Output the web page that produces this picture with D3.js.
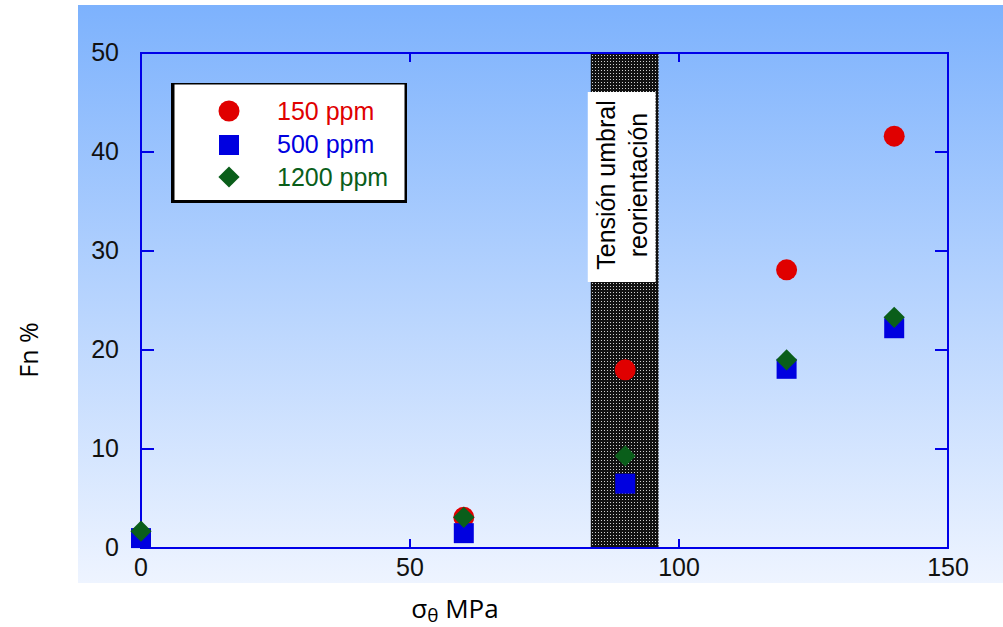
<!DOCTYPE html>
<html>
<head>
<meta charset="utf-8">
<script src="https://cdn.jsdelivr.net/npm/d3@7"></script>
<style>
  body { margin: 0; background: #fff; }
  svg { display: block; }
</style>
</head>
<body>
<svg width="1003" height="627"></svg>
<script>
// data
const stress = [0, 60, 90, 120, 140];
const ppm150 = [null, 3.1, 18.0, 28.1, 41.6];
const ppm500 = [1.0, 1.5, 6.5, 18.1, 22.2];
const ppm1200 = [1.7, 3.1, 9.3, 19.0, 23.3];
const seriesNames = ["150 ppm", "500 ppm", "1200 ppm"];
const seriesColors = ["#e00000", "#0000e0", "#0a5e1a"];
const xTicks = [0, 50, 100, 150];
const yTicks = [0, 10, 20, 30, 40, 50];
const band = [83.6, 96.2];

const svg = d3.select("svg");

const x = d3.scaleLinear().domain([0, 150]).range([141, 948]);
const y = d3.scaleLinear().domain([0, 50]).range([548, 53]);

const defs = svg.append("defs");
const grad = defs.append("linearGradient")
    .attr("id", "bg").attr("x1", 0).attr("y1", 0).attr("x2", 0).attr("y2", 1);
grad.append("stop").attr("offset", "0%").attr("stop-color", "#7db2fd");
grad.append("stop").attr("offset", "100%").attr("stop-color", "#eef4ff");

const pat = defs.append("pattern")
    .attr("id", "dots").attr("patternUnits", "userSpaceOnUse")
    .attr("width", 3).attr("height", 3);
pat.append("rect").attr("width", 3).attr("height", 3).attr("fill", "#111");
pat.append("rect").attr("x", 1).attr("y", 1).attr("width", 1).attr("height", 1).attr("fill", "#cfcfcf");

// background
svg.append("rect")
    .attr("x", 78).attr("y", 5).attr("width", 925).attr("height", 578)
    .attr("fill", "url(#bg)");

// threshold band
svg.append("rect")
    .attr("x", x(band[0])).attr("y", y(50))
    .attr("width", x(band[1]) - x(band[0])).attr("height", y(0) - y(50))
    .attr("fill", "url(#dots)");

const boxTop = 92, boxBot = 282;
svg.append("rect")
    .attr("x", x(band[0]) - 3).attr("y", boxTop)
    .attr("width", x(band[1]) - x(band[0])).attr("height", boxBot - boxTop)
    .attr("fill", "#fff");

const labelFont = "Liberation Sans, Arial, sans-serif";

const bandText = svg.append("text")
    .attr("transform", "translate(0,185) rotate(-90)")
    .attr("text-anchor", "middle")
    .style("font-family", labelFont)
    .style("font-size", "25px")
    .attr("fill", "#000");
bandText.append("tspan").attr("x", 0).attr("y", 615).text("Tensión umbral");
bandText.append("tspan").attr("x", 0).attr("y", 647).text("reorientación");

// frame
svg.append("rect")
    .attr("x", x(0)).attr("y", y(50))
    .attr("width", x(150) - x(0)).attr("height", y(0) - y(50))
    .attr("fill", "none").attr("stroke", "#0000e8").attr("stroke-width", 2);

// ticks
const tickG = svg.append("g").attr("stroke", "#0000e8").attr("stroke-width", 2);
yTicks.slice(1, -1).forEach(function(t) {
  tickG.append("line").attr("x1", x(0)).attr("x2", x(0) + 13).attr("y1", y(t)).attr("y2", y(t));
  tickG.append("line").attr("x1", x(150)).attr("x2", x(150) - 13).attr("y1", y(t)).attr("y2", y(t));
});
xTicks.slice(1, -1).forEach(function(t) {
  tickG.append("line").attr("x1", x(t)).attr("x2", x(t)).attr("y1", y(0)).attr("y2", y(0) - 9);
  tickG.append("line").attr("x1", x(t)).attr("x2", x(t)).attr("y1", y(50)).attr("y2", y(50) + 9);
});

svg.append("g").selectAll("text")
    .data(xTicks).enter().append("text")
    .attr("x", function(d) { return x(d); })
    .attr("y", 576)
    .attr("text-anchor", "middle")
    .style("font-family", labelFont).style("font-size", "25px")
    .attr("fill", "#111")
    .text(function(d) { return d; });

svg.append("g").selectAll("text")
    .data(yTicks).enter().append("text")
    .attr("x", 119)
    .attr("y", function(d) { return y(d) + 8; })
    .attr("text-anchor", "end")
    .style("font-family", labelFont).style("font-size", "25px")
    .attr("fill", "#111")
    .text(function(d) { return d; });

// axis titles
svg.append("text")
    .attr("transform", "translate(38,350) rotate(-90)")
    .attr("text-anchor", "middle")
    .style("font-family", "Open Sans, sans-serif").style("font-size", "25px")
    .attr("fill", "#000")
    .text("Fn %");

const xt = svg.append("text")
    .attr("x", 455).attr("y", 618)
    .attr("text-anchor", "middle")
    .style("font-family", "Open Sans, sans-serif").style("font-size", "26px")
    .attr("fill", "#000");
xt.append("tspan").text("σ");
xt.append("tspan").attr("dy", 4).style("font-size", "19px").text("θ");
xt.append("tspan").attr("dy", -4).text(" MPa");

// markers
const circle = d3.symbol().type(d3.symbolCircle).size(Math.PI * 10.5 * 10.5);
const square = d3.symbol().type(d3.symbolSquare).size(20 * 20);
const diamond = d3.symbol().type(d3.symbolSquare).size(15 * 15);
const shapes = [circle, square, diamond];
const rot = [0, 0, 45];
const series = [ppm150, ppm500, ppm1200];

series.forEach(function(vals, i) {
  svg.append("g").selectAll("path")
      .data(stress.map(function(s, j) { return [s, vals[j]]; }).filter(function(d) { return d[1] != null; }))
      .enter().append("path")
      .attr("d", shapes[i])
      .attr("transform", function(d) { return "translate(" + x(d[0]) + "," + y(d[1]) + ") rotate(" + rot[i] + ")"; })
      .attr("fill", seriesColors[i]);
});

// legend
const lg = svg.append("g");
lg.append("rect").attr("x", 171).attr("y", 83).attr("width", 236).attr("height", 120)
    .attr("fill", "#000");
lg.append("rect").attr("x", 174.5).attr("y", 84.5).attr("width", 230).attr("height", 115.5)
    .attr("fill", "#fff");
const legY = [111, 145, 177];
const legBase = [120, 153, 186];
seriesNames.forEach(function(n, i) {
  lg.append("path").attr("d", shapes[i])
      .attr("transform", "translate(229," + legY[i] + ") rotate(" + rot[i] + ")")
      .attr("fill", seriesColors[i]);
  lg.append("text").attr("x", 277).attr("y", legBase[i])
      .style("font-family", labelFont).style("font-size", "25px")
      .attr("fill", seriesColors[i])
      .text(n);
});
</script>
</body>
</html>
